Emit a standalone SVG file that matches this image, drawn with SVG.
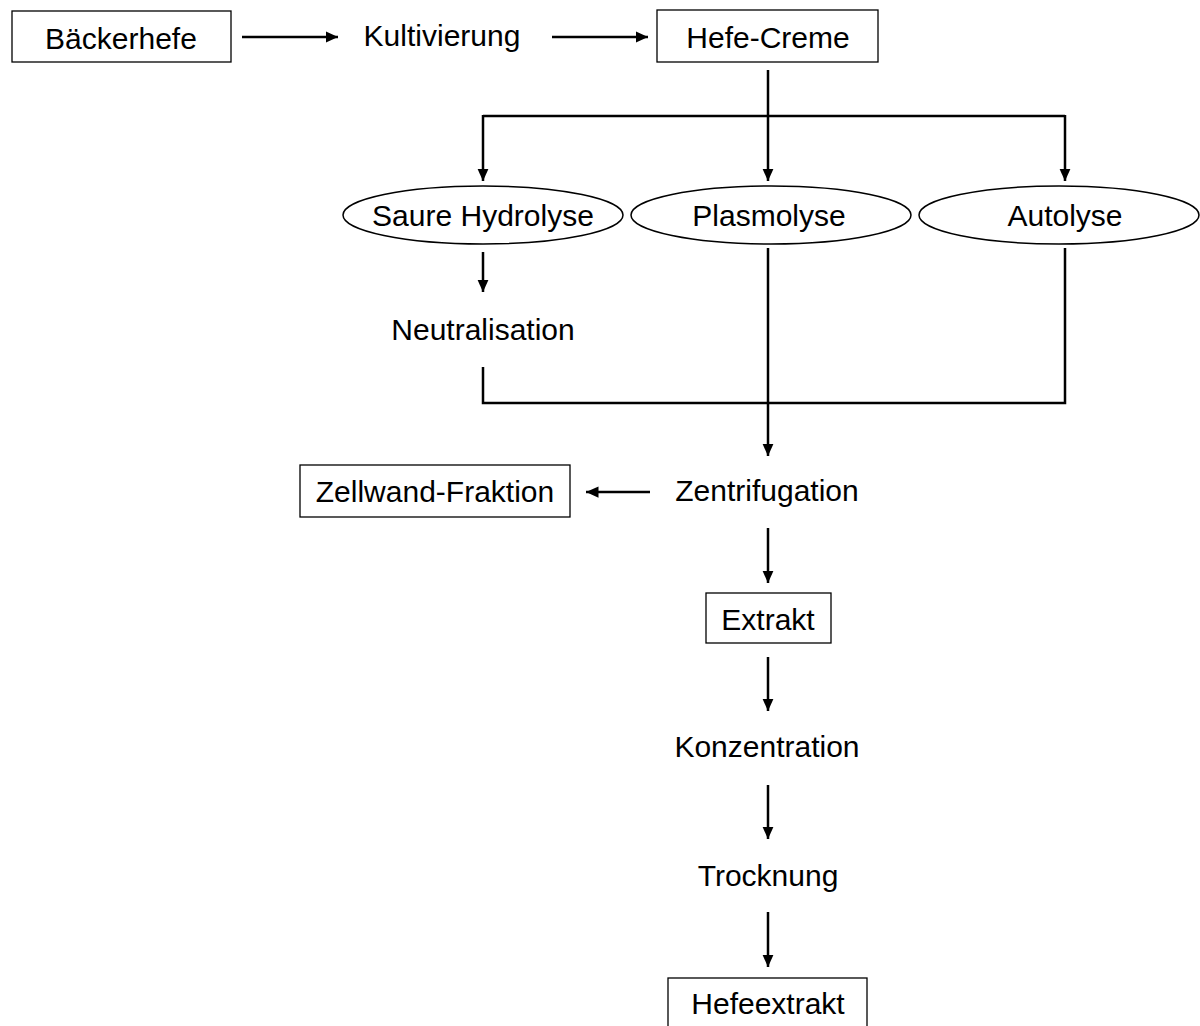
<svg xmlns="http://www.w3.org/2000/svg" width="1200" height="1026" viewBox="0 0 1200 1026">
<style>
.box{fill:#fff;stroke:#000;stroke-width:1.3}
.ell{fill:#fff;stroke:#000;stroke-width:1.5}
.t{font-family:"Liberation Sans",Arial,sans-serif;font-size:30px;fill:#000;text-anchor:middle}
.c{fill:none;stroke:#000;stroke-width:2.5}
</style>
<defs>
<marker id="ah" viewBox="0 0 10 10" refX="10" refY="5" markerWidth="5" markerHeight="4.5" markerUnits="strokeWidth" orient="auto" preserveAspectRatio="none">
<path d="M0,0 L10,5 L0,10 z" fill="#000"/>
</marker>
</defs>
<rect width="1200" height="1026" fill="#fff"/>
<g id="connectors">
<line class="c" x1="242" y1="37" x2="338" y2="37" marker-end="url(#ah)"/>
<line class="c" x1="552" y1="37" x2="648" y2="37" marker-end="url(#ah)"/>
<line class="c" x1="768" y1="70" x2="768" y2="181" marker-end="url(#ah)"/>
<line class="c" x1="483" y1="116" x2="1065" y2="116"/>
<line class="c" x1="483" y1="115" x2="483" y2="181" marker-end="url(#ah)"/>
<line class="c" x1="1065" y1="115" x2="1065" y2="181" marker-end="url(#ah)"/>
<line class="c" x1="483" y1="252" x2="483" y2="292" marker-end="url(#ah)"/>
<polyline class="c" points="483,367 483,403 1065,403 1065,248"/>
<line class="c" x1="768" y1="248" x2="768" y2="456" marker-end="url(#ah)"/>
<line class="c" x1="650" y1="492" x2="586" y2="492" marker-end="url(#ah)"/>
<line class="c" x1="768" y1="528" x2="768" y2="583" marker-end="url(#ah)"/>
<line class="c" x1="768" y1="657" x2="768" y2="711" marker-end="url(#ah)"/>
<line class="c" x1="768" y1="785" x2="768" y2="839" marker-end="url(#ah)"/>
<line class="c" x1="768" y1="912" x2="768" y2="967" marker-end="url(#ah)"/>
</g>
<g id="baeckerhefe"><rect class="box" x="12" y="11" width="219" height="51"/><text class="t" x="121" y="49">Bäckerhefe</text></g>
<g id="kultivierung"><text class="t" x="442" y="46">Kultivierung</text></g>
<g id="hefecreme"><rect class="box" x="657" y="10" width="221" height="52"/><text class="t" x="768" y="48">Hefe-Creme</text></g>
<g id="saure"><ellipse class="ell" cx="483" cy="215" rx="140" ry="29"/><text class="t" x="483" y="226">Saure Hydrolyse</text></g>
<g id="plasmolyse"><ellipse class="ell" cx="771" cy="215" rx="140" ry="29"/><text class="t" x="769" y="226">Plasmolyse</text></g>
<g id="autolyse"><ellipse class="ell" cx="1059" cy="215" rx="140" ry="29"/><text class="t" x="1065" y="226">Autolyse</text></g>
<g id="neutralisation"><text class="t" x="483" y="340">Neutralisation</text></g>
<g id="zentrifugation"><text class="t" x="767" y="501">Zentrifugation</text></g>
<g id="zellwand"><rect class="box" x="300" y="465" width="270" height="52"/><text class="t" x="435" y="502">Zellwand-Fraktion</text></g>
<g id="extrakt"><rect class="box" x="706" y="593" width="125" height="50"/><text class="t" x="768" y="630">Extrakt</text></g>
<g id="konzentration"><text class="t" x="767" y="757">Konzentration</text></g>
<g id="trocknung"><text class="t" x="768" y="886">Trocknung</text></g>
<g id="hefeextrakt"><rect class="box" x="668" y="978" width="199" height="60"/><text class="t" x="768" y="1014">Hefeextrakt</text></g>
</svg>
